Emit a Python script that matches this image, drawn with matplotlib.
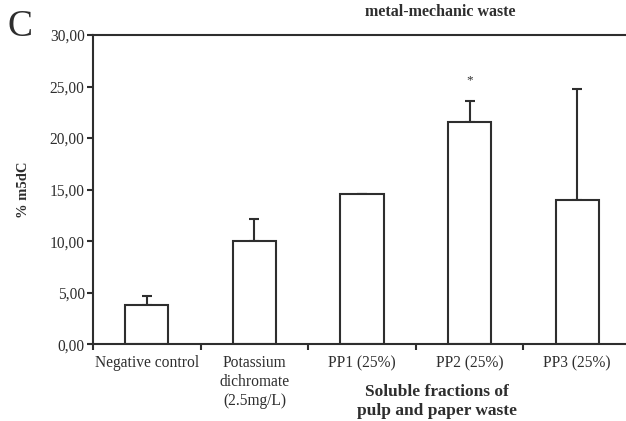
import matplotlib
matplotlib.use('Agg')
import matplotlib.pyplot as plt
from matplotlib.ticker import FuncFormatter

# data
groups = ['Negative control', 'Potassium\ndichromate\n(2.5mg/L)', 'PP1 (25%)', 'PP2 (25%)', 'PP3 (25%)']
means = [3.8, 10.0, 14.6, 21.55, 14.0]
errs = [0.9, 2.2, 0.0, 2.0, 10.8]
yticks = [0, 5, 10, 15, 20, 25, 30]

plt.rcParams['font.family'] = ['Liberation Serif', 'DejaVu Serif']
ink = '#2e2e2e'

fig = plt.figure(figsize=(6.26, 4.21), dpi=100)
ax = fig.add_axes([0.1486, 0.1822, 0.8594, 0.7347])

x = list(range(len(groups)))
ax.bar(x, means, width=0.4, color='white', edgecolor=ink, linewidth=1.5, zorder=2)
ax.errorbar(x, means, yerr=[[0] * len(errs), errs], fmt='none', ecolor=ink,
            elinewidth=1.5, capsize=3.5, capthick=1.5, zorder=1)

# significance mark over PP2
ax.text(3, 25.6, '*', ha='center', va='center', fontsize=9.5, color=ink)

ax.set_xlim(-0.5, 4.5)
ax.set_ylim(0, 30)
ax.set_yticks(yticks)
ax.yaxis.set_major_formatter(FuncFormatter(lambda v, p: f'{v:.2f}'.replace('.', ',')))

# excel-style: ticks on category borders, labels in the middle
ax.set_xticks([i - 0.5 for i in range(len(groups) + 1)])
ax.set_xticklabels([])
ax.set_xticks(x, minor=True)
ax.set_xticklabels(groups, minor=True, fontsize=11.2, color=ink, linespacing=1.25)
ax.tick_params(axis='x', which='minor', length=0, pad=8)
ax.tick_params(axis='both', which='major', length=4, width=1.5, color=ink,
               labelsize=11.2, labelcolor=ink)
ax.tick_params(axis='y', pad=2)

for s in ['left', 'bottom', 'top']:
    ax.spines[s].set_linewidth(1.5)
    ax.spines[s].set_color(ink)
ax.spines['right'].set_visible(False)

ax.set_ylabel('% m5dC', fontsize=10.5, fontweight='bold', color=ink, labelpad=14)

fig.text(0.012, 0.895, 'C', fontsize=27, color=ink, va='bottom')
fig.text(0.703, 0.99, 'metal-mechanic waste', fontsize=11.5, fontweight='bold',
         color=ink, ha='center', va='top')
fig.text(0.698, 0.005, 'Soluble fractions of\npulp and paper waste', fontsize=12.5,
         fontweight='bold', color=ink, ha='center', va='bottom', linespacing=1.2)

fig.savefig('out.png', dpi=100)
